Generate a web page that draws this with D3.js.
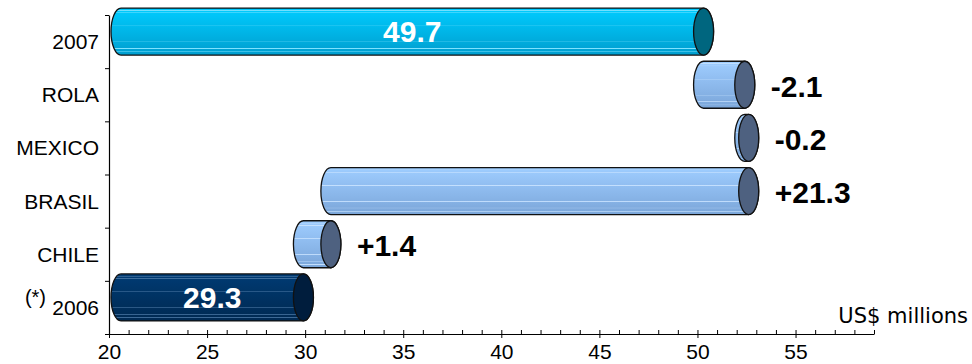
<!DOCTYPE html>
<html>
<head>
<meta charset="utf-8">
<script src="https://cdn.jsdelivr.net/npm/d3@7"></script>
<style>
  html, body { margin: 0; padding: 0; background: #fff; }
  svg { display: block; }
</style>
</head>
<body>
<svg id="chart" width="972" height="364"></svg>
<script>
// ---- data ----
const categories = ["2007", "ROLA", "MEXICO", "BRASIL", "CHILE", "2006"];
const values     = [49.7, -2.1, -0.2, 21.3, 1.4, 29.3];
const kinds      = ["total", "delta", "delta", "delta", "delta", "total"];
const valueLabels = ["49.7", "-2.1", "-0.2", "+21.3", "+1.4", "29.3"];
const xTicks     = [20, 25, 30, 35, 40, 45, 50, 55];
const xDomain    = [20, 59];
const unitLabel  = "US$ millions";
const footMark   = "(*)";

// ---- layout ----
const W = 972, H = 364;
const plot = { left: 109, right: 874, top: 15, bottom: 334 };
const depth = { dx: 12, dy: -10 };
const rx = 10, barH = 47;

const svg = d3.select("#chart");
svg.append("rect").attr("width", W).attr("height", H).attr("fill", "#fff");

const x = d3.scaleLinear().domain(xDomain).range([plot.left, plot.right]);
const y = d3.scaleBand().domain(categories).range([plot.top, plot.bottom]).padding(0);

// waterfall ranges (computed bottom-up from the 2006 total)
const ranges = new Array(categories.length);
let running = null;
for (let i = categories.length - 1; i >= 0; i--) {
  if (kinds[i] === "total") {
    ranges[i] = [xDomain[0], values[i]];
    running = values[i];
  } else {
    ranges[i] = [running, running + values[i]];
    running += values[i];
  }
}

// ---- gradients ----
const defs = svg.append("defs");
const palettes = {
  cyan:  { top: "#00CCFF", bot: "#009ECF", stripe: "#7FE3FF", cap: "#00667F" },
  light: { top: "#9ECDFF", bot: "#7BA6D9", stripe: "#C9E3FF", cap: "#4E6180" },
  navy:  { top: "#003B73", bot: "#002952", stripe: "#4F7BA8", cap: "#001D3D" }
};
Object.entries(palettes).forEach(([k, p]) => {
  const g = defs.append("linearGradient").attr("id", "g-" + k)
    .attr("x1", 0).attr("y1", 0).attr("x2", 0).attr("y2", 1);
  const c = d3.interpolateRgb(p.top, p.bot);
  const stops = [];
  const stripes = [0.05, 0.1, 0.38, 0.72, 0.86, 0.93];
  stops.push([0, c(0)]);
  stripes.forEach(s => {
    stops.push([s - 0.012, c(s)]);
    stops.push([s, p.stripe]);
    stops.push([s + 0.012, c(s)]);
  });
  stops.push([1, c(1)]);
  stops.forEach(([o, col]) => g.append("stop").attr("offset", o).attr("stop-color", col));
});
const paletteFor = (i) => kinds[i] === "total" ? (i === 0 ? "cyan" : "navy") : "light";

// ---- bars (cylinders) ----
const bars = svg.append("g").attr("class", "bars");
categories.forEach((cat, i) => {
  const [a, b] = ranges[i];
  const xl = x(Math.min(a, b)) + depth.dx;
  const xr = x(Math.max(a, b)) + depth.dx;
  const cy = y(cat) + y.bandwidth() / 2 + depth.dy;
  const ry = barH / 2;
  const y0 = cy - ry, y1 = cy + ry;
  const pal = paletteFor(i);
  bars.append("path")
    .attr("d", `M${xl},${y0} L${xr},${y0} A${rx},${ry} 0 0 1 ${xr},${y1} L${xl},${y1} A${rx},${ry} 0 0 1 ${xl},${y0} Z`)
    .attr("fill", `url(#g-${pal})`)
    .attr("stroke", "#111").attr("stroke-width", 1.3);
  bars.append("ellipse")
    .attr("cx", xr).attr("cy", cy).attr("rx", rx).attr("ry", ry)
    .attr("fill", palettes[pal].cap)
    .attr("stroke", "#111").attr("stroke-width", 1.3);

  // value labels
  if (kinds[i] === "total") {
    bars.append("text")
      .attr("x", (xl + xr) / 2).attr("y", cy).attr("dy", "0.36em")
      .attr("text-anchor", "middle")
      .attr("font-family", "Liberation Sans, Arial, sans-serif")
      .attr("font-weight", "bold").attr("font-size", 30)
      .attr("fill", "#fff")
      .text(valueLabels[i]);
  } else {
    bars.append("text")
      .attr("x", xr + rx + 16).attr("y", cy + 1).attr("dy", "0.36em")
      .attr("text-anchor", "start")
      .attr("font-family", "Liberation Sans, Arial, sans-serif")
      .attr("font-weight", "bold").attr("font-size", 30)
      .attr("fill", "#000")
      .text(valueLabels[i]);
  }
});

// ---- x axis ----
const axisFont = "Liberation Sans, Arial, sans-serif";
const minorVals = d3.range(xDomain[0] + 1, xDomain[1] + 1).filter(v => v % 5 !== 0);
const gMinor = svg.append("g").attr("transform", `translate(0,${plot.bottom})`)
  .call(d3.axisBottom(x).tickValues(minorVals).tickSize(-4).tickFormat(""));
gMinor.select(".domain").remove();
gMinor.selectAll("line").attr("stroke", "#000");

const gx = svg.append("g").attr("transform", `translate(0,${plot.bottom})`)
  .call(d3.axisBottom(x).tickValues(xTicks).tickSizeInner(4).tickSizeOuter(0).tickFormat(d3.format("d")));
gx.select(".domain").attr("stroke", "#000").attr("stroke-width", 1.2);
gx.selectAll(".tick line").attr("y1", -4).attr("y2", 4).attr("stroke", "#000");
gx.selectAll(".tick text")
  .attr("y", 25).attr("dy", 0)
  .attr("font-family", axisFont).attr("font-size", 21).attr("fill", "#000");

// ---- y axis ----
const yIdx = d3.scaleLinear().domain([0, categories.length]).range([plot.top, plot.bottom]);
const gyTicks = svg.append("g").attr("transform", `translate(${plot.left},0)`)
  .call(d3.axisLeft(yIdx).tickValues(d3.range(categories.length + 1)).tickSize(4).tickSizeOuter(0).tickFormat(""));
gyTicks.select(".domain").attr("stroke", "#000").attr("stroke-width", 1.2);
gyTicks.selectAll("line").attr("stroke", "#000");

const gy = svg.append("g").attr("transform", `translate(${plot.left},0)`)
  .call(d3.axisLeft(y).tickSize(0).tickPadding(10));
gy.select(".domain").remove();
gy.selectAll(".tick text")
  .attr("dy", "0.36em")
  .attr("font-family", axisFont).attr("font-size", 21).attr("fill", "#000");

// footnote mark before 2006
svg.append("text")
  .attr("x", 46).attr("y", y(categories[categories.length - 1]) + y.bandwidth() / 2 - 3)
  .attr("text-anchor", "end")
  .attr("font-family", axisFont).attr("font-size", 20).attr("fill", "#000")
  .text(footMark);

// unit label
svg.append("text")
  .attr("x", 968).attr("y", 323)
  .attr("text-anchor", "end")
  .attr("font-family", "DejaVu Sans, Verdana, sans-serif").attr("font-size", 21).attr("fill", "#000")
  .text(unitLabel);
</script>
</body>
</html>
